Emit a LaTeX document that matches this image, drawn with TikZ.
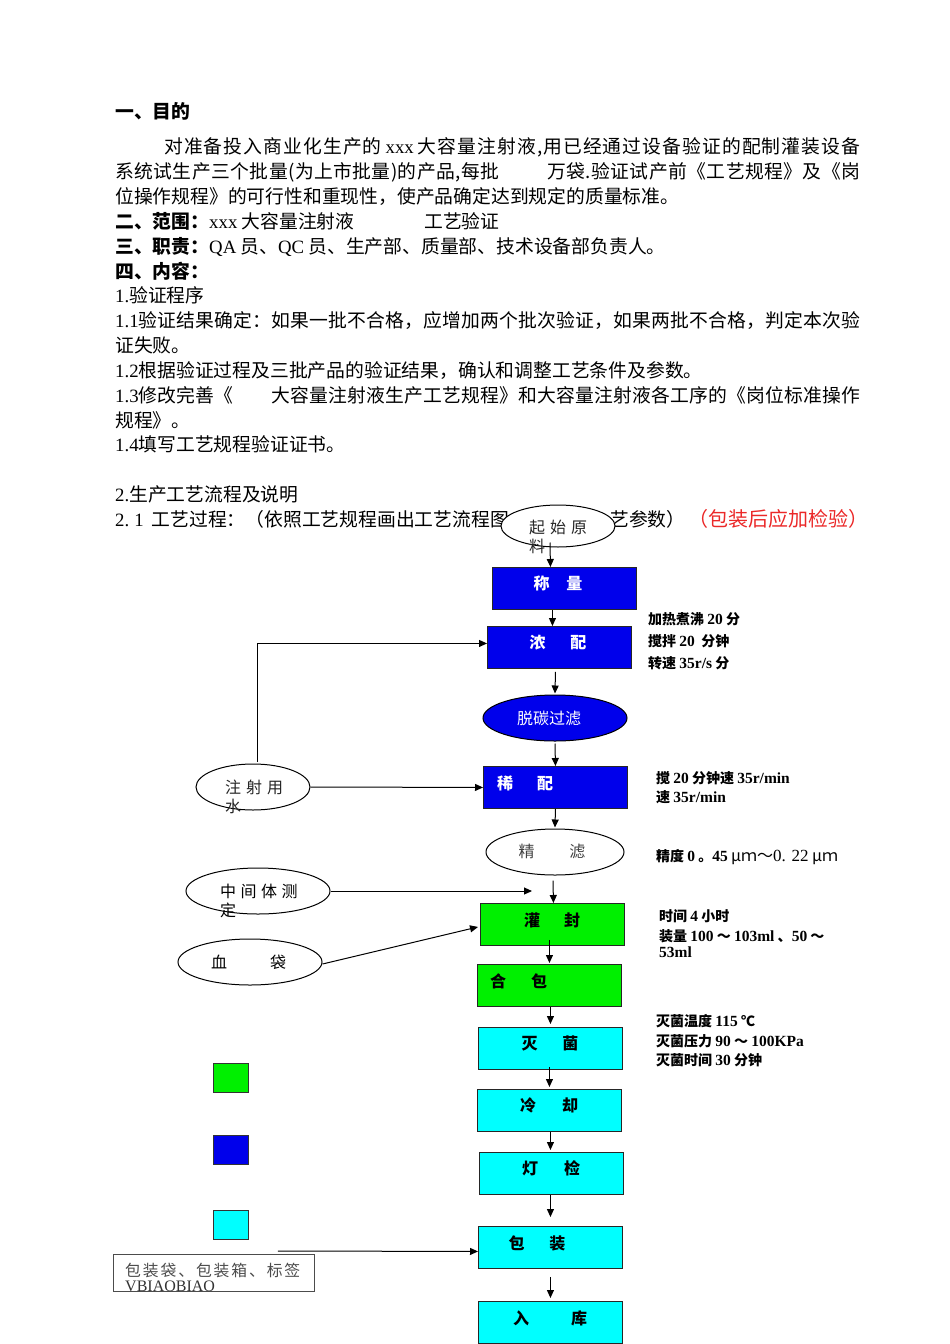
\documentclass[tikz,border=0pt]{standalone}
\usepackage{fontspec}
\setmainfont{Noto Sans CJK SC}
\newfontfamily\lat{Liberation Serif}
\usetikzlibrary{shapes.geometric,arrows.meta,calc}
% inter-character stretch for CJK so that justified lines can be spread
\newcount\cjkcc
\cjkcc="4E00 \loop \XeTeXcharclass\cjkcc=1 \advance\cjkcc by 1 \ifnum\cjkcc<"A000 \repeat
\cjkcc="3000 \loop \XeTeXcharclass\cjkcc=1 \advance\cjkcc by 1 \ifnum\cjkcc<"3040 \repeat
\cjkcc="FF00 \loop \XeTeXcharclass\cjkcc=1 \advance\cjkcc by 1 \ifnum\cjkcc<"FFF0 \repeat
\XeTeXinterchartoks 1 1 = {\hskip 0pt plus 1pt\relax}
\XeTeXinterchartoks 0 1 = {\hskip 0pt plus 1pt\relax}
\XeTeXinterchartoks 1 0 = {\hskip 0pt plus 1pt\relax}
\XeTeXinterchartokenstate=1
\definecolor{boxblue}{RGB}{0,0,235}
\definecolor{boxgreen}{RGB}{0,240,0}
\definecolor{boxcyan}{RGB}{0,255,255}
\definecolor{myred}{RGB}{235,40,40}
\newcommand\fbody{\fontsize{18.8}{25}\selectfont}
\newcommand\fann{\fontsize{14}{16}\selectfont\bfseries}
\newcommand\fflow{\fontsize{16}{18}\selectfont}
\newcommand\la[1]{{\lat\fontsize{15.5}{16}\selectfont #1}}
\newcommand\ls{\hspace{1.9pt}}
\begin{document}
\begin{tikzpicture}[x=1pt,y=-1pt,
  body/.style={anchor=base west, inner sep=0, font=\fbody},
  box/.style={draw=black!85, line width=0.9pt, minimum width=144pt, minimum height=42pt, inner sep=0, anchor=north west},
  ell/.style={draw=black, line width=1pt, ellipse, inner sep=0, fill=white},
  ft/.style={inner sep=0, font=\fflow},
  wt/.style={inner sep=0, font=\fflow\bfseries, text=white},
  bt/.style={inner sep=0, font=\fflow\bfseries, text=black},
  et/.style={inner sep=0, font=\fflow, text=black!85, anchor=west},
  ann/.style={inner sep=0, font=\fann, anchor=west},
  legend/.style={draw=black!80, line width=0.8pt, minimum width=35pt, minimum height=29pt, inner sep=0, anchor=north west},
  arr/.style={-{Triangle[length=8pt,width=7pt]}, line width=1pt}]
\useasboundingbox[fill=white] (0,0) rectangle (950,1344);
% ---------- body text ----------
\node[body] (h1) at (115,118) {\bfseries 一、目的};
\node[body] (p1) at (164,153) {\hbox to 696pt{对准备投入商业化生产的\hspace{4pt}{\lat xxx}\hspace{4pt}大容量注射液,用已经通过设备验证的配制灌装设备}};
\node[body] (p2) at (115,178) {\hbox to 745pt{系统试生产三个批量(为上市批量)的产品,每批\hspace*{48pt}万袋.验证试产前《工艺规程》及《岗}};
\node[body] (p3) at (115,203) {位操作规程》的可行性和重现性，使产品确定达到规定的质量标准。};
\node[body] (h2) at (115,228) {{\bfseries 二、范围：}{\lat xxx} 大容量注射液};
\node[body] (h2b) at (424,228) {工艺验证};
\node[body] (h3) at (115,253) {{\bfseries 三、职责：}{\lat QA} 员、{\lat QC} 员、生产部、质量部、技术设备部负责人。};
\node[body] (h4) at (115,278) {\bfseries 四、内容：};
\node[body] (s1) at (115,302) {{\lat 1.}验证程序};
\node[body] (s11) at (115,327) {\hbox to 745pt{{\lat 1.1}验证结果确定：如果一批不合格，应增加两个批次验证，如果两批不合格，判定本次验}};
\node[body] (s11b) at (115,352) {证失败。};
\node[body] (s12) at (115,377) {{\lat 1.2}根据验证过程及三批产品的验证结果，确认和调整工艺条件及参数。};
\node[body] (s13) at (115,402) {\hbox to 745pt{{\lat 1.3}修改完善《\hspace*{38pt}大容量注射液生产工艺规程》和大容量注射液各工序的《岗位标准操作}};
\node[body] (s13b) at (115,427) {规程》。};
\node[body] (s14) at (115,451) {{\lat 1.4}填写工艺规程验证证书。};
\node[body] (s2) at (115,501) {{\lat 2.}生产工艺流程及说明};
\node[body] (s21) at (115,526) {{\lat 2.\hspace{5pt}1}\hspace{8pt}工艺过程：（依照工艺规程画出工艺流程图};
\node[body] (s21b) at (610,526) {艺参数）};
\node[body, font=\fontsize{20}{25}\selectfont, text=myred] (red) at (688,526) {（包装后应加检验）};
% ---------- flow shapes ----------
\node[ell, minimum width=114pt, minimum height=42pt] (qs) at (558,526) {};
\node[box, fill=boxblue] (cl) at (492,567) {};
\node[box, fill=boxblue] (np) at (487,626) {};
\node[ell, fill=boxblue, minimum width=144pt, minimum height=46pt] (tt) at (555,718) {};
\node[box, fill=boxblue] (xp) at (483,766) {};
\node[ell, minimum width=138pt, minimum height=46pt] (jl) at (555,852) {};
\node[box, fill=boxgreen] (gf) at (480,903) {};
\node[box, fill=boxgreen] (hb) at (477,964) {};
\node[box, fill=boxcyan] (mj) at (478,1027) {};
\node[box, fill=boxcyan] (lq) at (477,1089) {};
\node[box, fill=boxcyan] (dj) at (479,1152) {};
\node[box, fill=boxcyan] (bz) at (478,1226) {};
\node[box, fill=boxcyan] (rk) at (478,1301) {};
\node[ell, minimum width=114pt, minimum height=46pt] (zs) at (253,787) {};
\node[ell, minimum width=144pt, minimum height=46pt] (zj) at (258,891) {};
\node[ell, minimum width=144pt, minimum height=46pt] (xd) at (250,962) {};
\node[draw=black!70, line width=0.8pt, fill=white, minimum width=201pt, minimum height=37pt, inner sep=0, anchor=north west] (bzd) at (113,1254) {};
\node[legend, fill=boxgreen] (lg1) at (213,1063) {};
\node[legend, fill=boxblue] (lg2) at (213,1135) {};
\node[legend, fill=boxcyan] (lg3) at (213,1210) {};
% ---------- flow texts ----------
\node[et] (qs-t1) at (529,527) {起\hspace{5pt}始\hspace{5pt}原};
\node[et] (qs-t2) at (529,546) {料};
\node[wt] (cl-t) at (558,583) {称\hspace{17pt}量};
\node[wt] (np-t) at (558,643) {浓\hspace{25pt}配};
\node[ft, text=white] (tt-t) at (549,718) {脱碳过滤};
\node[wt, anchor=west] (xp-t) at (497,783) {稀\hspace{24pt}配};
\node[ft, text=black!75] (jl-t) at (552,851) {精\hspace{35pt}滤};
\node[bt] (gf-t) at (552,920) {灌\hspace{24pt}封};
\node[bt, anchor=west] (hb-t) at (490,981) {合\hspace{25pt}包};
\node[bt] (mj-t) at (550,1043) {灭\hspace{25pt}菌};
\node[bt] (lq-t) at (549,1105) {冷\hspace{26pt}却};
\node[bt] (dj-t) at (551,1168) {灯\hspace{26pt}检};
\node[bt] (bz-t) at (537,1243) {包\hspace{25pt}装};
\node[bt] (rk-t) at (550,1318) {入\hspace{42pt}库};
\node[et] (zs-t1) at (225,787) {注\hspace{5pt}射\hspace{5pt}用};
\node[et] (zs-t2) at (225,806) {水};
\node[et, text=black] (zj-t1) at (220,891) {中\hspace{4.5pt}间\hspace{4.5pt}体\hspace{4.5pt}测};
\node[et, text=black] (zj-t2) at (220,910) {定};
\node[et, text=black] (xd-t) at (211,962) {血\hspace{43pt}袋};
\node[et, font=\fontsize{15.8}{17}\selectfont, text=black!70] (bzd-t1) at (125,1270) {包\ls 装\ls 袋\ls 、\ls 包\ls 装\ls 箱\ls 、\ls 标\ls 签};
\node[inner sep=0, anchor=base west, font=\lat\fontsize{16}{17}\selectfont, text=black!80] (bzd-t2) at (125,1291) {VBIAOBIAO};
% ---------- annotations ----------
\node[ann] (a1) at (648,619) {加热煮沸 \la{20} 分};
\node[ann] (a2) at (648,641) {搅拌 \la{20}\ \ 分钟};
\node[ann] (a3) at (648,663) {转速 \la{35r/s} 分};
\node[ann] (a4) at (656,778) {搅 \la{20} 分钟速 \la{35r/min}};
\node[ann] (a5) at (656,797) {速 \la{35r/min}};
\node[ann] (a6) at (656,857) {精度 \la{0} 。\la{45} {\fontsize{16}{18}\selectfont\mdseries μｍ～{\lat\fontsize{17}{18}\selectfont 0. 22} μｍ}};
\node[ann] (a7) at (659,916) {时间 \la{4} 小时};
\node[ann] (a8) at (659,936) {装量 \la{100} ～ \la{103ml} 、\la{50} ～};
\node[ann] (a9) at (659,952) {\la{53ml}};
\node[ann] (a10) at (656,1021) {灭菌温度 \la{115} ℃};
\node[ann] (a11) at (656,1041) {灭菌压力 \la{90} ～ \la{100KPa}};
\node[ann] (a12) at (656,1060) {灭菌时间 \la{30} 分钟};
% ---------- connectors ----------
\draw[arr] ([xshift=-8pt,yshift=5pt]qs.south) -- ([xshift=-14pt]cl.north);
\draw[arr] ([xshift=-12pt]cl.south) -- ([xshift=-7pt]np.north);
\draw[arr] ([xshift=-4pt,yshift=-3pt]np.south) -- ([yshift=1pt]tt.north);
\draw[arr] ([yshift=-2pt]tt.south) -- (xp.north);
\draw[arr] (xp.south) -- ([yshift=1pt]jl.north);
\draw[arr] ([xshift=-2pt,yshift=-5pt]jl.south) -- ([xshift=1pt]gf.north);
\draw[arr] ([xshift=-3pt,yshift=6pt]gf.south) -- ([yshift=1pt]hb.north);
\draw[arr] ([xshift=1pt]hb.south) -- ([yshift=3pt]mj.north);
\draw[arr] ([xshift=-1pt,yshift=3pt]mj.south) -- ([yshift=2pt]lq.north);
\draw[arr] ([xshift=1pt]lq.south) -- ([xshift=-1pt,yshift=2pt]dj.north);
\draw[arr] ([xshift=-1pt]dj.south) -- ([yshift=9pt]bz.north);
\draw[arr] ([yshift=-8pt]bz.south) -- ([yshift=3pt]rk.north);
\draw[arr] (zs.east) -- (xp.west);
\draw[arr] ([xshift=4pt,yshift=2pt]zs.north) |- ([yshift=4pt]np.west);
\coordinate (zjend) at (532,891);
\draw[arr] (zj.east) -- (zjend);
\draw[arr] ([yshift=-2pt]xd.east) -- ([xshift=-2pt,yshift=-2.5pt]gf.west);
\draw[arr] ([xshift=-37pt,yshift=3pt]bzd.north east) -- ([yshift=-4pt]bz.west);
\end{tikzpicture}
\end{document}
